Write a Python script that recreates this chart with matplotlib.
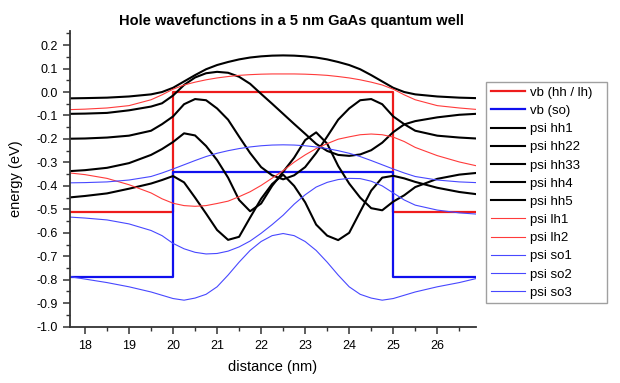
import matplotlib
matplotlib.use("Agg")
import matplotlib.pyplot as plt
from matplotlib.ticker import MultipleLocator, FormatStrFormatter

plt.rcParams['font.family'] = ['Liberation Sans', 'DejaVu Sans']

# ---------------- data ----------------
title = "Hole wavefunctions in a 5 nm GaAs quantum well"
xlabel = "distance (nm)"
ylabel = "energy (eV)"

# band edges
vb_x = [17.66, 20.0, 20.0, 25.0, 25.0, 26.88]
vb_hh_lh = [-0.51, -0.51, 0.0, 0.0, -0.51, -0.51]
vb_so = [-0.79, -0.79, -0.34, -0.34, -0.79, -0.79]

# wavefunction sample positions
psi_x = [17.66, 18.0, 18.5, 19.0, 19.5, 19.75, 20.0, 20.25, 20.5, 20.75, 21.0,
         21.25, 21.5, 21.75, 22.0, 22.25, 22.5, 22.75, 23.0, 23.25, 23.5, 23.75,
         24.0, 24.25, 24.5, 24.75, 25.0, 25.25, 25.5, 26.0, 26.5, 26.88]

psi_hh1 = [-0.027, -0.026, -0.024, -0.019, -0.010, 0.000, 0.018, 0.045, 0.072, 0.097, 0.115,
           0.128, 0.139, 0.147, 0.152, 0.155, 0.156, 0.155, 0.152, 0.147, 0.139, 0.128,
           0.115, 0.097, 0.072, 0.045, 0.018, 0.000, -0.010, -0.019, -0.024, -0.026]
psi_hh22 = [-0.093, -0.092, -0.089, -0.078, -0.062, -0.048, -0.015, 0.030, 0.062, 0.080, 0.086,
            0.082, 0.065, 0.035, -0.008, -0.050, -0.093, -0.136, -0.178, -0.221, -0.251, -0.268,
            -0.272, -0.266, -0.248, -0.216, -0.171, -0.138, -0.124, -0.108, -0.097, -0.093]
psi_hh33 = [-0.199, -0.198, -0.194, -0.186, -0.165, -0.137, -0.104, -0.052, -0.030, -0.035, -0.070,
            -0.118, -0.190, -0.260, -0.320, -0.355, -0.372, -0.355, -0.320, -0.260, -0.190, -0.118,
            -0.070, -0.035, -0.030, -0.052, -0.104, -0.137, -0.165, -0.186, -0.194, -0.198]
psi_hh4 = [-0.337, -0.333, -0.323, -0.303, -0.268, -0.243, -0.213, -0.176, -0.185, -0.230, -0.290,
           -0.365, -0.460, -0.508, -0.475, -0.400, -0.340, -0.280, -0.205, -0.172, -0.220, -0.315,
           -0.390, -0.450, -0.495, -0.504, -0.467, -0.440, -0.405, -0.370, -0.352, -0.345]
psi_hh5 = [-0.449, -0.443, -0.432, -0.412, -0.390, -0.375, -0.358, -0.385, -0.450, -0.518, -0.588,
           -0.630, -0.617, -0.535, -0.455, -0.392, -0.352, -0.400, -0.470, -0.565, -0.612, -0.631,
           -0.600, -0.510, -0.420, -0.365, -0.357, -0.368, -0.383, -0.408, -0.426, -0.435]
psi_lh1 = [-0.075, -0.073, -0.068, -0.058, -0.033, -0.012, 0.012, 0.030, 0.042, 0.052, 0.060,
           0.066, 0.071, 0.074, 0.076, 0.077, 0.077, 0.077, 0.076, 0.074, 0.071, 0.066,
           0.060, 0.052, 0.042, 0.030, 0.012, -0.012, -0.033, -0.058, -0.068, -0.074]
psi_lh2 = [-0.345, -0.352, -0.368, -0.395, -0.430, -0.455, -0.474, -0.484, -0.487, -0.484, -0.475,
           -0.465, -0.446, -0.425, -0.398, -0.367, -0.335, -0.299, -0.268, -0.241, -0.220, -0.201,
           -0.191, -0.182, -0.179, -0.182, -0.192, -0.211, -0.236, -0.271, -0.298, -0.314]
psi_so1 = [-0.387, -0.386, -0.383, -0.375, -0.360, -0.345, -0.328, -0.310, -0.292, -0.275, -0.261,
           -0.250, -0.241, -0.234, -0.229, -0.226, -0.225, -0.226, -0.229, -0.234, -0.241, -0.250,
           -0.261, -0.275, -0.292, -0.310, -0.328, -0.345, -0.360, -0.375, -0.383, -0.386]
psi_so2 = [-0.533, -0.537, -0.545, -0.562, -0.590, -0.612, -0.645, -0.668, -0.683, -0.690, -0.688,
           -0.678, -0.660, -0.635, -0.602, -0.565, -0.525, -0.478, -0.438, -0.405, -0.385, -0.373,
           -0.368, -0.369, -0.380, -0.400, -0.430, -0.460, -0.482, -0.503, -0.515, -0.520]
psi_so3 = [-0.787, -0.797, -0.812, -0.830, -0.852, -0.866, -0.880, -0.887, -0.878, -0.862, -0.830,
           -0.780, -0.725, -0.675, -0.637, -0.612, -0.603, -0.612, -0.637, -0.675, -0.725, -0.780,
           -0.830, -0.862, -0.878, -0.887, -0.880, -0.866, -0.852, -0.830, -0.812, -0.795]

labels = ["vb (hh / lh)", "vb (so)", "psi hh1", "psi hh22", "psi hh33", "psi hh4",
          "psi hh5", "psi lh1", "psi lh2", "psi so1", "psi so2", "psi so3"]

x_ticks = [18, 19, 20, 21, 22, 23, 24, 25, 26]
y_ticks = [-1.0, -0.9, -0.8, -0.7, -0.6, -0.5, -0.4, -0.3, -0.2, -0.1, 0.0, 0.1, 0.2]

# ---------------- plot ----------------
W, H = 620, 383
fig = plt.figure(figsize=(W / 100, H / 100), dpi=100)
ax = fig.add_axes([70 / W, 1 - 326.7 / H, (476 - 70) / W, (326.7 - 31) / H])

RED = '#ee1c1c'
BLUE = '#1010ee'
TRED = '#ff3b3b'
TBLUE = '#4848ff'

ax.plot(vb_x, vb_hh_lh, color=RED, lw=1.6, label=labels[0])
ax.plot(vb_x, vb_so, color=BLUE, lw=1.6, label=labels[1])
for ys, lab in zip([psi_hh1, psi_hh22, psi_hh33, psi_hh4, psi_hh5], labels[2:7]):
    ax.plot(psi_x, ys, color='black', lw=1.5, label=lab)
for ys, lab in zip([psi_lh1, psi_lh2], labels[7:9]):
    ax.plot(psi_x, ys, color=TRED, lw=0.8, label=lab)
for ys, lab in zip([psi_so1, psi_so2, psi_so3], labels[9:12]):
    ax.plot(psi_x, ys, color=TBLUE, lw=0.8, label=lab)

ax.set_xlim(17.66, 26.88)
ax.set_ylim(-1.0, 0.26)
ax.set_xticks(x_ticks)
ax.set_yticks(y_ticks)
ax.xaxis.set_minor_locator(MultipleLocator(0.5))
ax.yaxis.set_minor_locator(MultipleLocator(0.05))
ax.yaxis.set_major_formatter(FormatStrFormatter('%.1f'))

for s in ['top', 'right']:
    ax.spines[s].set_visible(False)
for s in ['left', 'bottom']:
    ax.spines[s].set_color('#333333')
    ax.spines[s].set_linewidth(1.3)
ax.tick_params(which='major', direction='out', length=5, width=1.1, color='#333333',
               labelsize=9, pad=3.5)
ax.tick_params(which='minor', direction='out', length=3, width=1.0, color='#333333')
ax.tick_params(axis='x', pad=4.5)

fig.text(291 / W, 1 - 21 / H, title, ha='center', va='center', fontsize=10.5, fontweight='bold')
fig.text(273 / W, 1 - 367 / H, xlabel, ha='center', va='center', fontsize=10.5)
fig.text(16 / W, 1 - 179 / H, ylabel, ha='center', va='center', fontsize=10.5, rotation=90)

leg = fig.legend(loc='upper left', bbox_to_anchor=(486 / W, 1 - 304 / H, 121 / W, 222 / H),
                 mode='expand', fontsize=9.5,
                 frameon=True, fancybox=False, edgecolor='#a0a0a0', framealpha=1,
                 handlelength=2.6, handletextpad=0.4, labelspacing=0.45, borderpad=0.35,
                 borderaxespad=0)
leg.get_frame().set_linewidth(1.0)

fig.savefig('out.png', dpi=100)
